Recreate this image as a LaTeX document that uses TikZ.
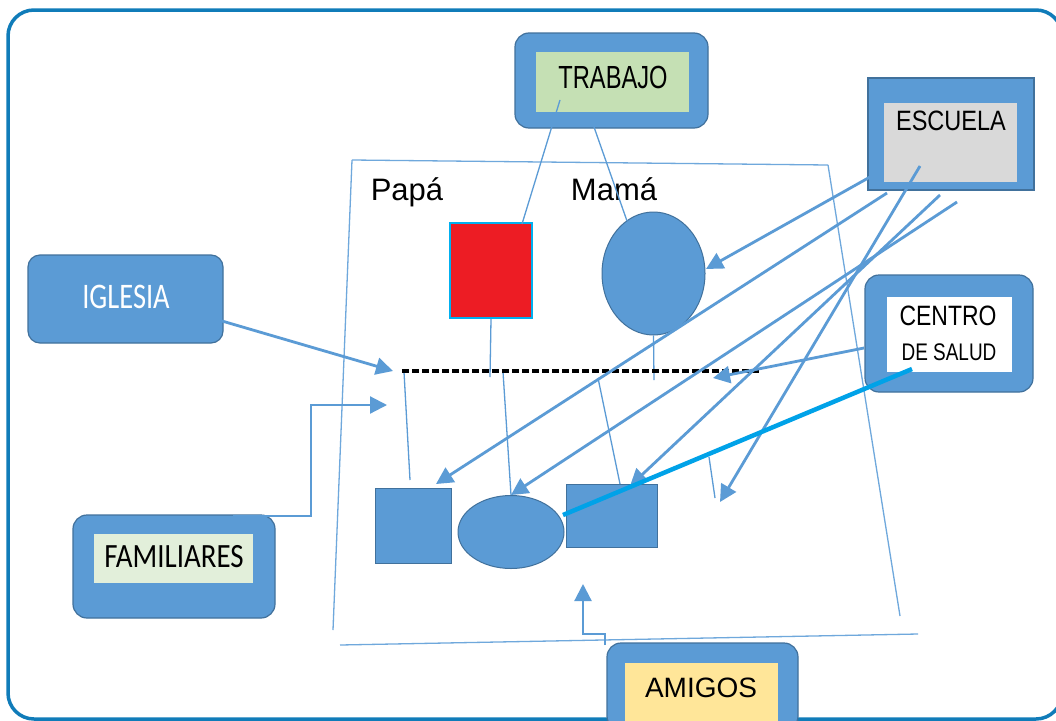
\documentclass[tikz,border=0pt]{standalone}
\usepackage{fontspec}
\setmainfont{Liberation Sans}
\newfontfamily\calib{Carlito}
\usetikzlibrary{arrows.meta,shapes.geometric}
\definecolor{midblue}{HTML}{5B9BD5}
\definecolor{edgeblue}{HTML}{41719C}
\definecolor{frameblue}{RGB}{16,124,185}
\definecolor{brightblue}{HTML}{00A2E8}
\definecolor{redfill}{HTML}{ED1C24}
\definecolor{rededge}{HTML}{00B0F0}
\definecolor{greenfill}{HTML}{C5E0B4}
\definecolor{palegreen}{HTML}{E2EFDA}
\definecolor{greyfill}{HTML}{D9D9D9}
\definecolor{yellowfill}{HTML}{FFE699}
\definecolor{thinblue}{HTML}{5B9BD5}
\definecolor{quadblue}{HTML}{6FA8DC}
\begin{document}
\begin{tikzpicture}[x=1pt,y=-1pt,
  outerbox/.style={draw=edgeblue, line width=1.2pt, fill=midblue, rounded corners=14pt, inner sep=0pt},
  sharpbox/.style={draw=edgeblue, line width=1.2pt, fill=midblue, inner sep=0pt},
  innerbox/.style={draw=none, inner sep=0pt},
  member/.style={draw=edgeblue, line width=1pt, fill=midblue, inner sep=0pt},
  lbl/.style={anchor=base, inner sep=0pt, text=black},
  thinline/.style={draw=thinblue, line width=1.3pt},
  quadline/.style={draw=quadblue, line width=1.3pt},
  arr/.style={draw=midblue, line width=2.8pt, -{Triangle[length=17pt,width=17pt]}},
  elbow/.style={draw=midblue, line width=2.2pt, -{Triangle[length=17pt,width=17pt]}},
  boldline/.style={draw=brightblue, line width=4.5pt},
  parents/.style={draw=black, line width=3.2pt, dash pattern=on 7pt off 3pt}
]
\useasboundingbox (0,0) rectangle (1056,720);
\begin{scope}
\clip (0,0) rectangle (1056,720);
\fill[white] (0,0) rectangle (1056,720);

% outer frame
\draw[frameblue, line width=3.5pt, rounded corners=26pt] (8,10) rectangle (1062,719);

% family frame (quadrilateral lines)
\coordinate (q1) at (352,160);
\coordinate (q2) at (828,165);
\coordinate (q3) at (900,616);
\coordinate (q4) at (333,630);
\coordinate (q5) at (340,645);
\coordinate (q6) at (918,634);
\draw[quadline] (q1) -- (q2);
\draw[quadline] (q1) -- (q4);
\draw[quadline] (q2) -- (q3);
\draw[quadline] (q5) -- (q6);

% parents and children
\node[lbl] (papa) at (407,200) {\fontsize{31}{31}\selectfont Papá};
\node[lbl] (mama) at (614,200) {\fontsize{31}{31}\selectfont Mamá};
\node[draw=rededge, line width=2pt, fill=redfill, minimum width=82pt, minimum height=95pt, inner sep=0pt] (father) at (491,270.5) {};
\node[member, ellipse, minimum width=103pt, minimum height=123pt] (mother) at (653.5,273.5) {};
\node[member, minimum width=76pt, minimum height=75pt] (child1) at (413,525.5) {};
\node[member, ellipse, minimum width=106pt, minimum height=73pt] (child2) at (511,532) {};
\node[member, minimum width=91pt, minimum height=63pt] (child3) at (611.5,515.5) {};

% thin family lines
\coordinate (fd) at (490,377);
\coordinate (md) at (654,380);
\coordinate (c1u) at (404,372);
\coordinate (c1d) at (410,480);
\coordinate (c2u) at (503,372);
\coordinate (c3u) at (598,378);
\coordinate (c3d) at (620,484);
\coordinate (xu) at (709,457);
\coordinate (xd) at (715,498);
\draw[thinline] (father.south) -- (fd);
\draw[thinline] (mother.south) -- (md);
\draw[thinline] (c1u) -- (c1d);
\draw[thinline] (c2u) -- (child2.north);
\draw[thinline] (c3u) -- (c3d);
\draw[thinline] (xu) -- (xd);

% parents line
\coordinate (pl) at (402,371);
\coordinate (pr) at (760,371);
\draw[parents] (pl) -- (pr);

% boxes
\node[outerbox, minimum width=193pt, minimum height=95pt] (trabajoOut) at (611.5,80.5) {};
\node[innerbox, fill=greenfill, minimum width=153pt, minimum height=60pt] (trabajo) at (612.5,82) {};
\node[lbl] (trabajoTxt) at (613,88) {\fontsize{32}{32}\selectfont\scalebox{0.74}[1]{TRABAJO}};

\node[sharpbox, minimum width=166pt, minimum height=112pt] (escuelaOut) at (951,134) {};
\node[innerbox, fill=greyfill, minimum width=133pt, minimum height=79pt] (escuela) at (950.5,142.5) {};
\node[lbl] (escuelaTxt) at (951,130) {\fontsize{28}{28}\selectfont\scalebox{0.84}[1]{ESCUELA}};

\node[outerbox, minimum width=168pt, minimum height=117pt] (saludOut) at (949,333.5) {};
\node[innerbox, fill=white, minimum width=125pt, minimum height=75pt] (salud) at (949.5,334.5) {};
\node[lbl] (saludTxtA) at (948,325) {\fontsize{28}{28}\selectfont\scalebox{0.82}[1]{CENTRO}};
\node[lbl] (saludTxtB) at (949,360) {\fontsize{24}{24}\selectfont\scalebox{0.79}[1]{DE SALUD}};

\node[outerbox, rounded corners=12pt, minimum width=195pt, minimum height=88pt] (iglesia) at (125.5,299) {};
\node[lbl, text=white] (iglesiaTxt) at (126,308) {\calib\fontsize{36}{36}\selectfont\scalebox{0.79}[1]{IGLESIA}};

\node[outerbox, minimum width=202pt, minimum height=103pt] (familiaresOut) at (174,566.5) {};
\node[innerbox, fill=palegreen, minimum width=159pt, minimum height=49pt] (familiares) at (173.5,558.5) {};
\node[lbl] (familiaresTxt) at (174,567) {\calib\fontsize{34}{34}\selectfont\scalebox{0.85}[1]{FAMILIARES}};

\node[outerbox, minimum width=191pt, minimum height=87pt] (amigosOut) at (702.5,686.5) {};
\node[innerbox, fill=yellowfill, minimum width=153pt, minimum height=67pt] (amigos) at (701.5,696.5) {};
\node[lbl] (amigosTxt) at (701,697) {\fontsize{28}{28}\selectfont AMIGOS};

% trabajo lines
\coordinate (t1) at (560,100);
\coordinate (t1e) at (522,224);
\coordinate (t2) at (594,127);
\coordinate (t2e) at (627,221);
\draw[thinline] (t1) -- (t1e);
\draw[thinline] (t2) -- (t2e);

% escuela arrows
\coordinate (e1) at (870,177);
\coordinate (e1t) at (706,269);
\coordinate (e2) at (887,193);
\coordinate (e2t) at (436,484);
\coordinate (e3) at (957,202);
\coordinate (e3t) at (511,495);
\coordinate (e4) at (940,195);
\coordinate (e4t) at (630,486);
\coordinate (e5) at (920,166);
\coordinate (e5t) at (720,502);
\draw[arr] (e1) -- (e1t);
\draw[arr] (e2) -- (e2t);
\draw[arr] (e3) -- (e3t);
\draw[arr] (e4) -- (e4t);
\draw[arr] (e5) -- (e5t);

% centro de salud
\coordinate (s1) at (864,348);
\coordinate (s1t) at (713,378);
\draw[arr] (s1) -- (s1t);
\coordinate (s2) at (912,369);
\coordinate (s2t) at (563,515);
\draw[boldline] (s2) -- (s2t);

% iglesia
\coordinate (i1) at (222,321);
\coordinate (i1t) at (393,371);
\draw[arr] (i1) -- (i1t);

% familiares
\coordinate (f1) at (233,516);
\coordinate (f2) at (311,516);
\coordinate (f3) at (311,405);
\coordinate (f1t) at (387,405);
\draw[elbow] (f1) -- (f2) -- (f3) -- (f1t);

% amigos
\coordinate (a1) at (605,645);
\coordinate (a2) at (605,634);
\coordinate (a3) at (583,634);
\coordinate (a1t) at (583,584);
\draw[elbow] (a1) -- (a2) -- (a3) -- (a1t);
\end{scope}
\end{tikzpicture}
\end{document}
